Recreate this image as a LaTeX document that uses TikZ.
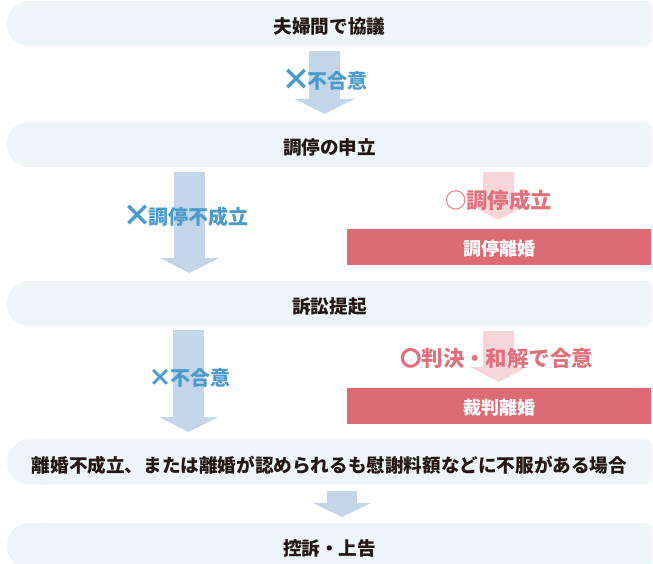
\documentclass[tikz,border=0pt]{standalone}
\usepackage{fontspec}
\setmainfont{Noto Sans CJK JP}
\usetikzlibrary{arrows.meta,backgrounds}
\definecolor{barbg}{HTML}{EDF5F7}
\definecolor{darktxt}{HTML}{231815}
\definecolor{bluearr}{HTML}{C3D5E8}
\definecolor{bluetxt}{HTML}{4A9ACB}
\definecolor{pinkarr}{HTML}{F6D6D9}
\definecolor{pinkbox}{HTML}{DC6B76}
\definecolor{pinktxt}{HTML}{E0717C}
\newcommand{\bigx}{\makebox[1.1em][c]{\raisebox{-0.12em}{\scalebox{1.5}{×}}}}
\newcommand{\smallx}{\makebox[1em][c]{\raisebox{-0.04em}{\scalebox{1.2}{×}}}}
\tikzset{
  bar/.style={draw=none, minimum width=645pt, minimum height=45pt,
    inner sep=0pt, text height=22pt, text depth=2pt,
    font=\fontsize{18.6}{20}\selectfont\bfseries, text=darktxt},
  resultbox/.style={fill=pinkbox, draw=none, minimum width=304pt, minimum height=36pt, inner sep=0pt,
    text height=19pt, text depth=2pt,
    font=\fontsize{18}{20}\selectfont\bfseries, text=white},
  bluearrow/.style={draw=bluearr, line width=31pt, -{Triangle[width=59pt,length=15pt,line width=0pt]}},
  pinkarrow/.style={draw=pinkarr, line width=31pt, -{Triangle[width=57pt,length=15pt,line width=0pt]}},
  bluelabel/.style={font=\fontsize{20}{22}\selectfont\bfseries, text=bluetxt, inner sep=0pt},
  pinklabel/.style={font=\fontsize{21.4}{23}\selectfont\bfseries, text=pinktxt, inner sep=0pt},
}
\begin{document}
\begin{tikzpicture}[x=1pt,y=-1pt]
\useasboundingbox (0,0) rectangle (653,564);
% bars (text only; fills drawn on background layer)
\node[bar] (b1) at (329.5,23.5) {夫婦間で協議};
\node[bar] (b2) at (329.5,144.5) {調停の申立};
\node[bar] (b3) at (329.5,303.5) {訴訟提起};
\node[bar] (b4) at (329.5,462) {離婚不成立、または離婚が認められるも慰謝料額などに不服がある場合};
\node[bar] (b5) at (329.5,545.5) {控訴・上告};
\begin{pgfonlayer}{background}
\foreach \b in {b1,b2,b3,b4,b5}{
  \fill[barbg, rounded corners=8pt] ([xshift=30pt]\b.south west) rectangle (\b.north east);
  \fill[barbg, rounded corners=22.5pt] (\b.south west) rectangle ([xshift=60pt]\b.north west);
}
\end{pgfonlayer}
% result boxes
\node[resultbox] (r1) at (499,247) {調停離婚};
\node[resultbox] (r2) at (499,406) {裁判離婚};
% arrow end points
\coordinate (a1s) at (324.5,51);  \coordinate (a1e) at (324.5,114);
\coordinate (a2s) at (189.5,172); \coordinate (a2e) at (189.5,273);
\coordinate (p1s) at (498.5,172); \coordinate (p1e) at (498.5,220);
\coordinate (a3s) at (188.5,330); \coordinate (a3e) at (188.5,432);
\coordinate (p2s) at (498.5,331); \coordinate (p2e) at (498.5,382);
\coordinate (a4s) at (342,491);   \coordinate (a4e) at (342,517);
% arrows
\draw[bluearrow] (a1s) -- (a1e);
\draw[bluearrow] (a2s) -- (a2e);
\draw[bluearrow] (a3s) -- (a3e);
\draw[bluearrow, line width=30pt, -{Triangle[width=58pt,length=14pt,line width=0pt]}] (a4s) -- (a4e);
\draw[pinkarrow] (p1s) -- (p1e);
\draw[pinkarrow] (p2s) -- (p2e);
% labels
\node[bluelabel] (l1) at (326,80) {\bigx 不合意};
\node[bluelabel] (l2) at (187.5,216) {\bigx 調停不成立};
\node[bluelabel] (l3) at (190,378) {\smallx 不合意};
\node[pinklabel] (l4) at (498.5,200) {○調停成立};
\node[pinklabel] (l5) at (496.5,358) {〇判決・和解で合意};
\end{tikzpicture}
\end{document}
